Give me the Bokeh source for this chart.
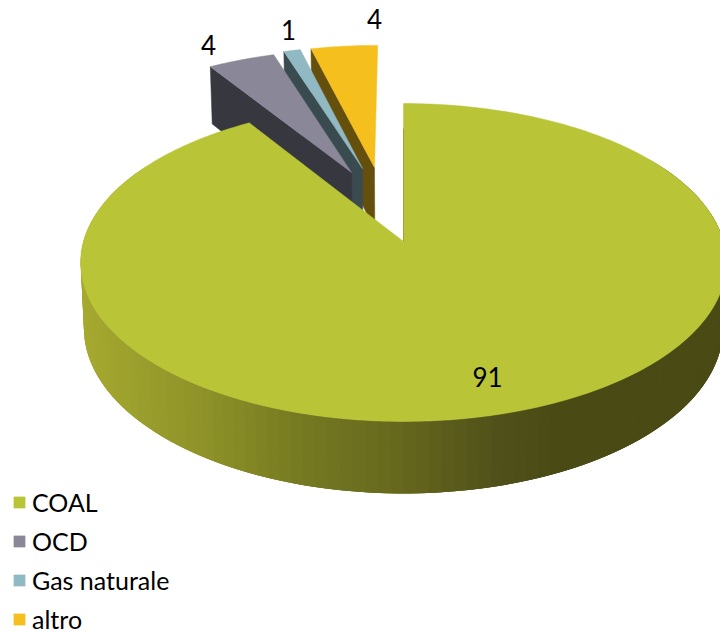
import numpy as np
from bokeh.embed import file_html
from bokeh.models import Range1d, Legend, LegendItem
from bokeh.plotting import figure
from bokeh.resources import INLINE
from bokeh.core.properties import value

# Chart values
categories = ["COAL", "OCD", "Gas naturale", "altro"]
shares = [91, 4, 1, 4]
value_labels = ["91", "4", "1", "4"]

# Slice colours: top face and cut-side wall
top_colors = ["#B9C536", "#8A8799", "#90B9C4", "#F5BF1E"]
wall_colors = ["#4A4A16", "#37373F", "#3A4B50", "#654F0C"]

# Exploded offsets in the pie plane (unit radius), one per slice
explode = [(0.0, 0.0), (-0.1726, 0.469), (-0.1365, 0.498), (-0.0967, 0.505)]

# Perspective camera for the disc
APEX_X, APEX_Y = 403.0, 241.0
SCALE_X, SCALE_Y, PERSP = 320.0, 156.2, 0.132
DEPTH, DEPTH_PERSP, DEPTH_SHRINK = 64.8, 0.10, 0.99

# Wall shading along the screen x direction
shade_x = [80, 200, 300, 400, 500, 560, 720]
shade_r = [166, 143, 117, 102, 80, 74, 74]
shade_g = [170, 147, 122, 104, 81, 74, 74]
shade_b = [48, 41, 34, 29, 26, 21, 21]


def top_face(X, Y):
    w = 1 + PERSP * Y
    return APEX_X + SCALE_X * X / w, APEX_Y - SCALE_Y * Y / w


def bottom_face(X, Y):
    w = 1 + PERSP * Y
    sx = APEX_X + DEPTH_SHRINK * SCALE_X * X / w
    sy = APEX_Y - SCALE_Y * Y / w + DEPTH / (1 + DEPTH_PERSP * Y)
    return sx, sy


def rim(start, stop, offset, n):
    """Points on a slice rim; angles are clockwise from twelve o'clock, in degrees."""
    t = np.radians(np.linspace(start, stop, n))
    return np.sin(t) + offset[0], np.cos(t) + offset[1]


total = sum(shares)
edges = np.concatenate([[0.0], np.cumsum(shares)]) * 360.0 / total

p = figure(width=720, height=633, output_backend="svg", toolbar_location=None,
           x_range=Range1d(0, 720), y_range=Range1d(633, 0),
           x_axis_type=None, y_axis_type=None, min_border=0, outline_line_color=None)
p.grid.visible = False
p.background_fill_color = "white"

# Exploded slices, back to front
face_renderers = {}
for i in [3, 2, 1]:
    off = explode[i]
    start, stop = edges[i], edges[i + 1]
    X, Y = rim(start, stop, off, 24)
    # Cut-side wall from the left rim corner to the slice apex
    x0, y0 = top_face(X[0], Y[0])
    x1, y1 = top_face(off[0], off[1])
    x2, y2 = bottom_face(off[0], off[1])
    x3, y3 = bottom_face(X[0], Y[0])
    p.patch([x0, x1, x2, x3], [y0, y1, y2, y3], fill_color=wall_colors[i],
            line_color=wall_colors[i], line_width=0.5)
    sx, sy = top_face(np.r_[off[0], X], np.r_[off[1], Y])
    face_renderers[i] = p.patch(sx, sy, fill_color=top_colors[i], line_color=top_colors[i], line_width=0.5)

# Shaded outer wall of the main slice; bands are painted in turn, each one
# overlapping the next so that no seams appear between them
t_edges = np.linspace(300, 60, 121)
step = t_edges[0] - t_edges[1]
wall_xs, wall_ys, wall_fill = [], [], []
for a, b in zip(t_edges[:-1], t_edges[1:]):
    X, Y = rim(a, b - 2 * step, explode[0], 3)
    tx, ty = top_face(X, Y)
    bx, by = bottom_face(X, Y)
    wall_xs.append(np.r_[tx, bx[::-1]].tolist())
    wall_ys.append(np.r_[ty, by[::-1]].tolist())
    cx = top_face(*rim(a, b, explode[0], 2))[0].mean()
    r, g, bl = (int(np.interp(cx, shade_x, c)) for c in (shade_r, shade_g, shade_b))
    wall_fill.append(f"#{r:02x}{g:02x}{bl:02x}")
p.patches(wall_xs, wall_ys, fill_color=wall_fill, line_color=None)

# Main slice top face and the thin sliver of its cut wall
X, Y = rim(edges[0], edges[1], explode[0], 361)
sx, sy = top_face(np.r_[0.0, X], np.r_[0.0, Y])
tx, ty = top_face(0.0, 0.0)
ex, ey = top_face(0.0, 0.8)
p.line([ex, tx], [ey, ty], line_color=wall_colors[0], line_width=1)
face_renderers[0] = p.patch(sx, sy, fill_color=top_colors[0], line_color=top_colors[0], line_width=0.5)

# Value labels, placed in the pie plane relative to each slice
label_anchor = [(0.2356, -0.776), (-0.730, 1.504), (-0.437, 1.644), (-0.1117, 1.759)]
lx, ly = zip(*(top_face(a, b) for a, b in label_anchor))
p.text(list(lx), list(ly), text=value_labels, text_font=value("Lato"), text_font_size="26px",
       text_color="#000000", text_align="center", text_baseline="middle")

legend = Legend(items=[LegendItem(label=categories[i], renderers=[face_renderers[i]]) for i in range(4)],
                location=(12, -1), orientation="vertical", margin=0, padding=0,
                border_line_color=None, background_fill_alpha=0,
                glyph_width=14, glyph_height=14, label_standoff=6, spacing=9, label_height=25,
                label_text_font="Lato", label_text_font_size="25px", label_text_color="#000000")
p.add_layout(legend, "center")

open("out.html", "w").write(file_html(p, INLINE))
